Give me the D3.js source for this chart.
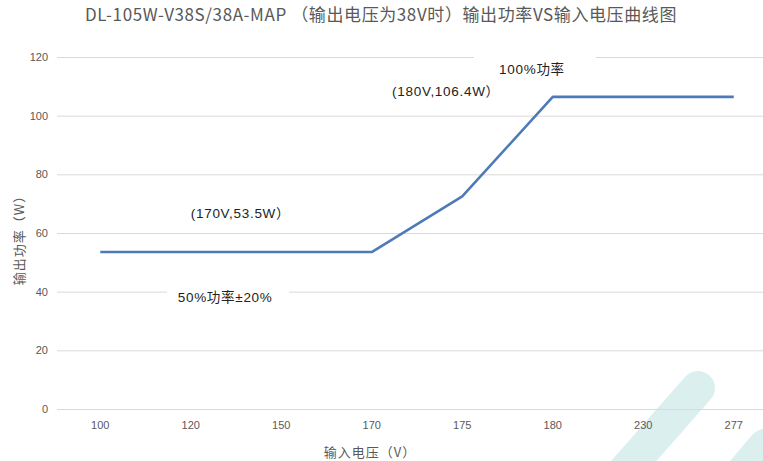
<!DOCTYPE html>
<html lang="zh">
<head>
<meta charset="UTF-8">
<title>输出功率VS输入电压曲线图</title>
<script src="https://d3js.org/d3.v7.min.js"></script>
<style>
  body { margin: 0; background: #fff; }
  svg { display: block; }
  .cjk { font-family: "Liberation Sans", "Noto Sans CJK SC", sans-serif; }
</style>
</head>
<body>
<div id="chart"></div>
<script>
// data
const voltages = ["100", "120", "150", "170", "175", "180", "230", "277"];
const power = [53.5, 53.5, 53.5, 53.5, 72.5, 106.4, 106.4, 106.4];
const yTicks = [0, 20, 40, 60, 80, 100, 120];

// annotations: position given as category index (fractional) and power value
const noteText = ["(170V,53.5W）", "(180V,106.4W）", "100%功率", "50%功率±20%"];
const noteIdx = [1.55, 3.82, 4.77, 1.38];
const noteVal = [66.8, 108.4, 115.9, 38.2];
const noteBox = [false, false, true, true];

const width = 763, height = 461;
const plotLeft = 55, plotTop = 57, plotBottom = 409;

const svg = d3.select("#chart").append("svg")
    .attr("width", width)
    .attr("height", height);

const x = d3.scaleBand()
    .domain(voltages)
    .range([plotLeft, plotLeft + 90.5 * voltages.length])
    .padding(0);

const y = d3.scaleLinear()
    .domain([0, 120])
    .range([plotBottom, plotTop]);

const xc = d => x(d) + x.bandwidth() / 2;
const xi = i => plotLeft + x.step() * (i + 0.5);

// watermark stripes
const wm = svg.append("g")
    .attr("stroke", "#dcefef")
    .attr("stroke-linecap", "round")
    .attr("fill", "none");
wm.append("line").attr("x1", 595).attr("y1", 505).attr("x2", 698).attr("y2", 388).attr("stroke-width", 34);
wm.append("line").attr("x1", 715).attr("y1", 505).attr("x2", 765).attr("y2", 446).attr("stroke-width", 34);

// y axis with gridlines
const gy = svg.append("g")
    .attr("transform", `translate(${plotLeft + 2},0)`)
    .call(d3.axisLeft(y).tickValues(yTicks).tickSize(-(width - plotLeft)).tickPadding(9));
gy.select(".domain").remove();
gy.selectAll(".tick line").attr("stroke", "#d9d9d9");
gy.selectAll(".tick text")
    .attr("fill", "#595959")
    .style("font", "11px 'Liberation Sans', sans-serif");

// x axis
const gx = svg.append("g")
    .attr("transform", `translate(0,${plotBottom})`)
    .call(d3.axisBottom(x).tickSize(0).tickPadding(12));
gx.select(".domain").remove();
gx.selectAll(".tick text")
    .attr("fill", "#595959")
    .style("font", "11px 'Liberation Sans Narrow', 'Liberation Sans', sans-serif");

// line
svg.append("path")
    .datum(power)
    .attr("fill", "none")
    .attr("stroke", "#4f7ab8")
    .attr("stroke-width", 2.6)
    .attr("stroke-linejoin", "round")
    .attr("d", d3.line().x((d, i) => xc(voltages[i])).y(d => y(d)));

// annotations
const notes = svg.append("g").attr("class", "cjk");
noteText.forEach((t, i) => {
  const cx = xi(noteIdx[i]), cy = y(noteVal[i]);
  if (noteBox[i]) {
    notes.append("rect")
        .attr("x", cx - 58)
        .attr("y", cy - 15)
        .attr("width", 122)
        .attr("height", 30)
        .attr("fill", "#fff");
  }
  notes.append("text")
      .attr("x", cx)
      .attr("y", cy)
      .attr("dy", "0.35em")
      .attr("text-anchor", "middle")
      .attr("fill", "#222")
      .style("font-size", "13.5px")
      .style("letter-spacing", "0.7px")
      .text(t);
});

// title
svg.append("text")
    .attr("x", 381)
    .attr("y", 21)
    .attr("text-anchor", "middle")
    .attr("fill", "#595959")
    .style("font", "17px 'Liberation Sans Narrow', 'Noto Sans CJK SC', sans-serif")
    .style("letter-spacing", "0.6px")
    .text("DL-105W-V38S/38A-MAP （输出电压为38V时）输出功率VS输入电压曲线图");

// axis titles
svg.append("text")
    .attr("transform", "translate(19,237) rotate(-90)")
    .attr("text-anchor", "middle")
    .attr("dy", "0.35em")
    .attr("fill", "#595959")
    .style("font", "13px 'Noto Sans CJK SC', sans-serif")
    .style("letter-spacing", "1px")
    .text("输出功率（W）");

svg.append("text")
    .attr("x", 370)
    .attr("y", 452)
    .attr("text-anchor", "middle")
    .attr("dy", "0.35em")
    .attr("fill", "#595959")
    .style("font", "13px 'Noto Sans CJK SC', sans-serif")
    .style("letter-spacing", "1px")
    .text("输入电压（V）");
</script>
</body>
</html>
